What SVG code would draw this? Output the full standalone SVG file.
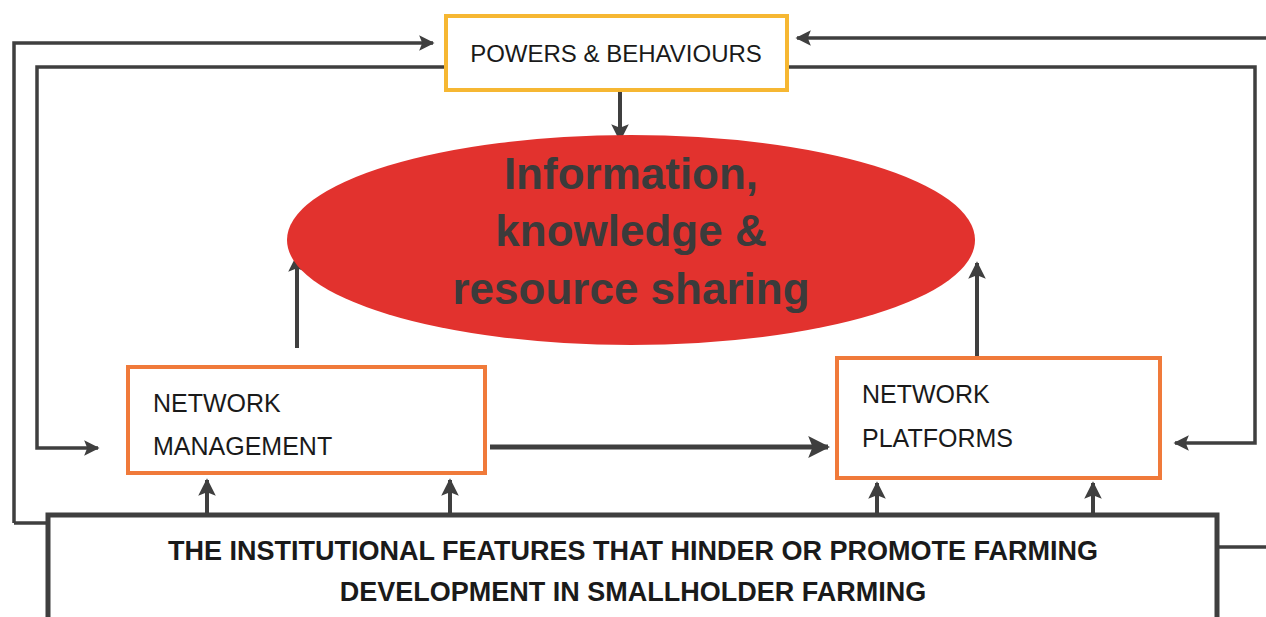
<svg xmlns="http://www.w3.org/2000/svg" width="1266" height="617" viewBox="0 0 1266 617">
<style>
.ln{fill:none;stroke:#3f3f3f;stroke-width:3.5}
.thick{fill:none;stroke:#3f3f3f;stroke-width:5}
.lbl{font-family:"Liberation Sans",Arial,sans-serif;font-size:24px;fill:#1a1a1a}
.nl{font-size:25px}
.big{font-family:"Liberation Sans",Arial,sans-serif;font-weight:bold;font-size:44px;fill:#3b3b3b;text-anchor:middle}
.bot{font-family:"Liberation Sans",Arial,sans-serif;font-weight:bold;font-size:27px;fill:#1a1a1a;text-anchor:middle}
</style>
<defs>
<marker id="ah" viewBox="0 0 10 10" refX="9" refY="5" markerWidth="4.4" markerHeight="4.4" orient="auto" markerUnits="strokeWidth">
<path d="M0,0 L10,5 L0,10 L2,5 z" fill="#3f3f3f"/>
</marker>
</defs>
<rect width="1266" height="617" fill="#ffffff"/>
<g id="connectors">
<polyline class="ln" points="14,523 14,43 433,43" marker-end="url(#ah)"/>
<polyline class="ln" points="445,67 37,67 37,448 98,448" marker-end="url(#ah)"/>
<polyline class="ln" points="1266,38 797,38" marker-end="url(#ah)"/>
<polyline class="ln" points="789,67 1255,67 1255,443 1175,443" marker-end="url(#ah)"/>
<line class="ln" x1="14" y1="523" x2="48" y2="523"/>
<line class="ln" x1="1217" y1="547" x2="1266" y2="547"/>
<line class="thick" x1="620" y1="90" x2="620" y2="140" marker-end="url(#ah)" style="stroke-width:4"/>
<line class="thick" x1="297" y1="348" x2="297" y2="256" marker-end="url(#ah)" style="stroke-width:4"/>
<line class="thick" x1="977" y1="358" x2="977" y2="263" marker-end="url(#ah)" style="stroke-width:4"/>
<line class="thick" x1="490" y1="447" x2="828" y2="447" marker-end="url(#ah)" style="stroke-width:5"/>
<line class="ln" x1="207" y1="513" x2="207" y2="480" marker-end="url(#ah)" style="stroke-width:4"/>
<line class="ln" x1="450" y1="513" x2="450" y2="480" marker-end="url(#ah)" style="stroke-width:4"/>
<line class="ln" x1="877" y1="513" x2="877" y2="483" marker-end="url(#ah)" style="stroke-width:4"/>
<line class="ln" x1="1093" y1="513" x2="1093" y2="483" marker-end="url(#ah)" style="stroke-width:4"/>
</g>
<g id="powers">
<rect x="446" y="16" width="341" height="74" fill="#ffffff" stroke="#F6B732" stroke-width="4"/>
<text class="lbl" x="616" y="62" text-anchor="middle">POWERS &amp; BEHAVIOURS</text>
</g>
<g id="info">
<ellipse cx="631" cy="240" rx="344" ry="105" fill="#E2322E"/>
<text class="big" x="631" y="189">Information,</text>
<text class="big" x="631" y="246">knowledge &amp;</text>
<text class="big" x="631" y="304">resource sharing</text>
</g>
<g id="management">
<rect x="128" y="367" width="357" height="106" fill="#ffffff" stroke="#F07A3A" stroke-width="4"/>
<text class="lbl nl" x="153" y="412">NETWORK</text>
<text class="lbl nl" x="153" y="455">MANAGEMENT</text>
</g>
<g id="platforms">
<rect x="837" y="358" width="323" height="120" fill="#ffffff" stroke="#F07A3A" stroke-width="4"/>
<text class="lbl nl" x="862" y="403">NETWORK</text>
<text class="lbl nl" x="862" y="447">PLATFORMS</text>
</g>
<g id="institutional">
<path class="thick" d="M48,640 L48,515 L1217,515 L1217,640"/>
<text class="bot" x="633" y="560">THE INSTITUTIONAL FEATURES THAT HINDER OR PROMOTE FARMING</text>
<text class="bot" x="633" y="601">DEVELOPMENT IN SMALLHOLDER FARMING</text>
</g>
</svg>
